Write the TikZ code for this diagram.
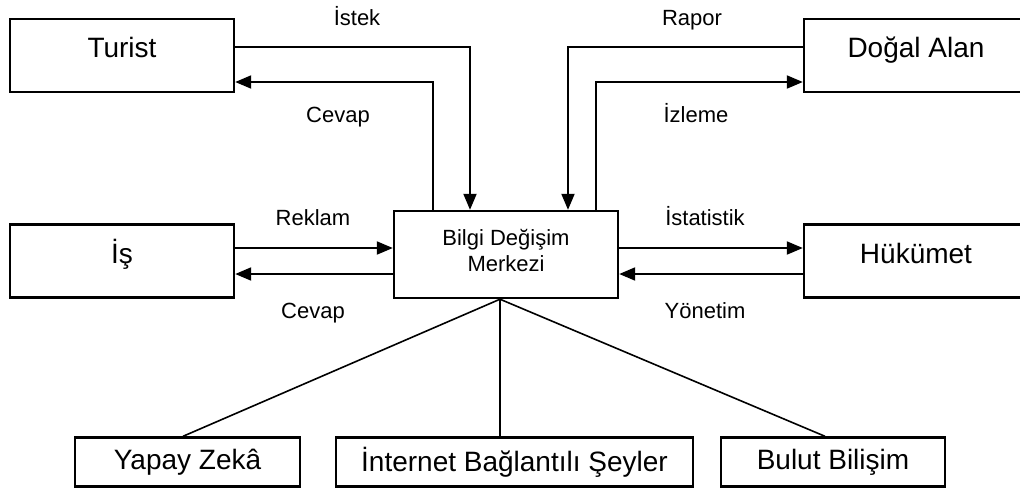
\documentclass[tikz,border=0pt]{standalone}
\usepackage{fontspec}
\setmainfont{Liberation Sans}
\usepackage{tikz}
\usetikzlibrary{arrows.meta}
\usetikzlibrary{positioning}
\tikzstyle{line} = [draw, line width=2pt, -{Triangle[length=16pt,width=13pt]}]
\tikzset{
    bigbox/.style={draw, line width=2.4pt, minimum width=224pt, minimum height=73pt,
        inner sep=0pt, font=\fontsize{28}{30}\selectfont, text height=20pt, text depth=16pt},
    midbox/.style={draw, line width=2.4pt, minimum width=224pt, minimum height=87pt,
        inner sep=0pt, align=center, font=\fontsize{22}{26}\selectfont, text depth=9pt},
    smallbox/.style={draw, line width=2.4pt, minimum height=49pt,
        inner sep=0pt, font=\fontsize{28}{30}\selectfont},
    lbl/.style={inner sep=0pt, font=\fontsize{22}{24}\selectfont, text height=16pt, text depth=4pt},
    thinline/.style={draw, line width=1.6pt},
}

\begin{document}
\begin{tikzpicture}[x=1pt, y=-1pt]
	\useasboundingbox (0,0) rectangle (1020,491);
	\node[bigbox] (turist) at (122,55.5) {Turist};
	\node[bigbox] (dogal) at (916,55.5) {Doğal Alan};
	\node[bigbox] (is) at (122,261) {İş};
	\node[bigbox] (hukumet) at (916,261) {Hükümet};
	\node[midbox] (merkez) at (506,254.5) {Bilgi Değişim\\Merkezi};
	\node[smallbox, minimum width=225pt] (yapay) at (187.5,462) {Yapay Zekâ};
	\node[smallbox, minimum width=357pt] (internet) at (514.5,462) {İnternet Bağlantılı Şeyler};
	\node[smallbox, minimum width=224pt] (bulut) at (833,462) {Bulut Bilişim};
	% ust baglantilar
	\draw[line] ([yshift=8.5pt]turist.east) -| ([xshift=-36pt]merkez.north);
	\draw[line] ([xshift=-73pt]merkez.north) |- ([yshift=-26.5pt]turist.east);
	\draw[line] ([yshift=8.5pt]dogal.west) -| ([xshift=62pt]merkez.north);
	\draw[line] ([xshift=90pt]merkez.north) |- ([yshift=-26.5pt]dogal.west);
	\node[lbl] (istek) at (357,19) {İstek};
	\node[lbl] (cevapust) at (338,116) {Cevap};
	\node[lbl] (rapor) at (692,19) {Rapor};
	\node[lbl] (izleme) at (696,116) {İzleme};
	% yan baglantilar
	\draw[line] ([yshift=13pt]is.east) -- ([yshift=13pt]is.east -| merkez.west);
	\draw[line] ([yshift=-13pt]is.east -| merkez.west) -- ([yshift=-13pt]is.east);
	\draw[line] ([yshift=13pt]hukumet.west -| merkez.east) -- ([yshift=13pt]hukumet.west);
	\draw[line] ([yshift=-13pt]hukumet.west) -- ([yshift=-13pt]hukumet.west -| merkez.east);
	\node[lbl] (reklam) at (313,219) {Reklam};
	\node[lbl] (cevapalt) at (313,312) {Cevap};
	\node[lbl] (istatistik) at (705,219) {İstatistik};
	\node[lbl] (yonetim) at (705,312) {Yönetim};
	% alt baglantilar
	\draw[thinline] ([xshift=-6pt]merkez.south) -- ([xshift=-4.5pt]yapay.north);
	\draw[thinline] ([xshift=-6pt]merkez.south) -- ([xshift=-14.5pt]internet.north);
	\draw[thinline] ([xshift=-6pt]merkez.south) -- ([xshift=-8pt]bulut.north);
\end{tikzpicture}
\end{document}
